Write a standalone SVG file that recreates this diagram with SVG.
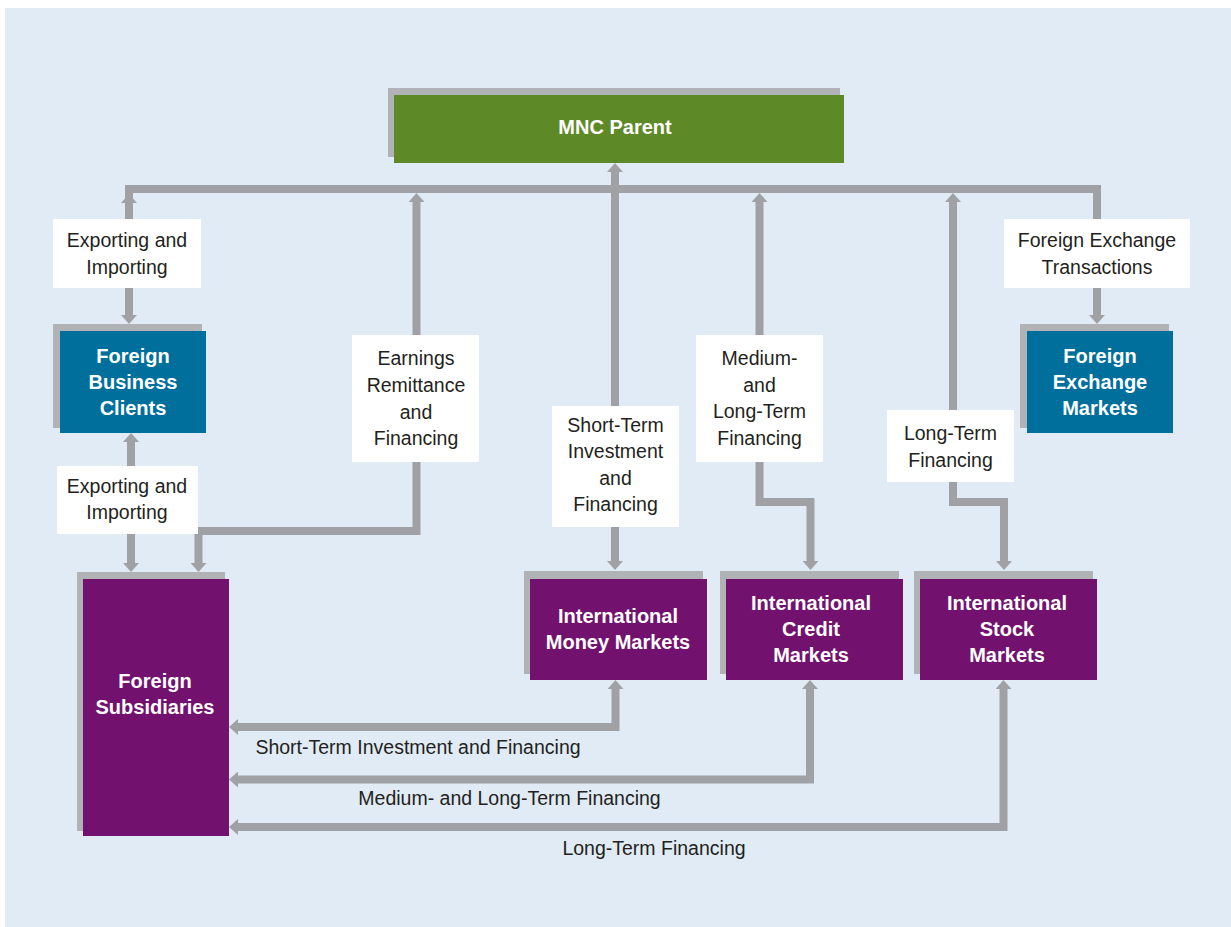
<svg xmlns="http://www.w3.org/2000/svg" width="1231" height="927" viewBox="0 0 1231 927">
<style>
.bg{fill:#e1ebf5}
.sh{fill:#b1b2b6}
.green{fill:#5e8927}
.blue{fill:#006f9c}
.purple{fill:#72126e}
.lbl{fill:#ffffff}
.bt{font-family:"Liberation Sans",Arial,sans-serif;font-weight:bold;font-size:20px;fill:#ffffff;text-anchor:middle}
.lt{font-family:"Liberation Sans",Arial,sans-serif;font-size:19.5px;fill:#231f20;text-anchor:middle}
.ln{fill:none;stroke:#a0a1a5;stroke-width:8;stroke-linejoin:miter}
.arr{marker-end:url(#ah)}
.arr2{marker-start:url(#ah);marker-end:url(#ah)}
</style>
<defs>
<marker id="ah" markerUnits="userSpaceOnUse" markerWidth="9" markerHeight="16" viewBox="0 0 9 16" refX="0" refY="8" orient="auto-start-reverse">
<path d="M0,0 L9,8 L0,16 z" fill="#a0a1a5"/>
</marker>
</defs>
<rect class="bg" x="5" y="8" width="1226" height="919"/>

<g id="connectors">
<path class="ln" d="M129,219 V189 H1097 V219"/>
<path class="ln arr" d="M129,210 V203"/>
<path class="ln arr" d="M129,288 V315"/>
<path class="ln arr" d="M1097,288 V315"/>
<path class="ln arr" d="M416.5,335 V202"/>
<path class="ln arr" d="M416.5,462 V531 H198.5 V563"/>
<path class="ln arr" d="M615,406 V172"/>
<path class="ln arr" d="M615,527 V561"/>
<path class="ln arr" d="M759.5,335 V202"/>
<path class="ln arr" d="M759.5,462 V502 H810.5 V561"/>
<path class="ln arr" d="M953,410 V202"/>
<path class="ln arr" d="M953,482 V502 H1004 V561"/>
<path class="ln arr" d="M131,466 V442"/>
<path class="ln arr" d="M131,534 V563"/>
<path class="ln arr2" d="M238,727 H615.5 V689"/>
<path class="ln arr2" d="M238,779.5 H810 V689"/>
<path class="ln arr2" d="M238,827 H1003.5 V689"/>
</g>

<g id="lbl-export1">
<rect class="lbl" x="53" y="219" width="148" height="69"/>
<text class="lt" x="127" y="247">Exporting and</text>
<text class="lt" x="127" y="274">Importing</text>
</g>
<g id="lbl-export2">
<rect class="lbl" x="57" y="466" width="141" height="68"/>
<text class="lt" x="127" y="493">Exporting and</text>
<text class="lt" x="127" y="519">Importing</text>
</g>
<g id="lbl-fx">
<rect class="lbl" x="1004" y="219" width="186" height="69"/>
<text class="lt" x="1097" y="247">Foreign Exchange</text>
<text class="lt" x="1097" y="274">Transactions</text>
</g>
<g id="lbl-earnings">
<rect class="lbl" x="352" y="335" width="127" height="127"/>
<text class="lt" x="416" y="365">Earnings</text>
<text class="lt" x="416" y="392">Remittance</text>
<text class="lt" x="416" y="418.5">and</text>
<text class="lt" x="416" y="445">Financing</text>
</g>
<g id="lbl-short">
<rect class="lbl" x="552" y="406" width="127" height="121"/>
<text class="lt" x="615.5" y="432">Short-Term</text>
<text class="lt" x="615.5" y="458">Investment</text>
<text class="lt" x="615.5" y="484.5">and</text>
<text class="lt" x="615.5" y="511">Financing</text>
</g>
<g id="lbl-medium">
<rect class="lbl" x="696" y="335" width="127" height="127"/>
<text class="lt" x="759.5" y="365">Medium-</text>
<text class="lt" x="759.5" y="392">and</text>
<text class="lt" x="759.5" y="418">Long-Term</text>
<text class="lt" x="759.5" y="445">Financing</text>
</g>
<g id="lbl-long">
<rect class="lbl" x="887" y="410" width="127" height="72"/>
<text class="lt" x="950.5" y="440">Long-Term</text>
<text class="lt" x="950.5" y="467">Financing</text>
</g>
<g id="lbl-bottom">
<text class="lt" x="418" y="754">Short-Term Investment and Financing</text>
<text class="lt" x="509.5" y="805">Medium- and Long-Term Financing</text>
<text class="lt" x="654" y="855">Long-Term Financing</text>
</g>

<g id="mnc-parent">
<rect class="sh" x="388" y="88" width="452" height="69"/>
<rect class="green" x="394" y="95" width="450" height="68"/>
<text class="bt" x="615" y="134">MNC Parent</text>
</g>
<g id="foreign-business-clients">
<rect class="sh" x="53" y="324" width="149" height="104"/>
<rect class="blue" x="60" y="331" width="146" height="102"/>
<text class="bt" x="133" y="362.5">Foreign</text>
<text class="bt" x="133" y="389">Business</text>
<text class="bt" x="133" y="415">Clients</text>
</g>
<g id="foreign-exchange-markets">
<rect class="sh" x="1020" y="324" width="149" height="104"/>
<rect class="blue" x="1027" y="331" width="146" height="102"/>
<text class="bt" x="1100" y="362.5">Foreign</text>
<text class="bt" x="1100" y="389">Exchange</text>
<text class="bt" x="1100" y="415">Markets</text>
</g>
<g id="foreign-subsidiaries">
<rect class="sh" x="77" y="572" width="148" height="259"/>
<rect class="purple" x="83" y="579" width="146" height="257"/>
<text class="bt" x="155" y="688">Foreign</text>
<text class="bt" x="155" y="714">Subsidiaries</text>
</g>
<g id="money-markets">
<rect class="sh" x="524" y="571" width="179" height="103"/>
<rect class="purple" x="530" y="579" width="177" height="101"/>
<text class="bt" x="618" y="622.5">International</text>
<text class="bt" x="618" y="649">Money Markets</text>
</g>
<g id="credit-markets">
<rect class="sh" x="720" y="571" width="179" height="103"/>
<rect class="purple" x="726" y="579" width="177" height="101"/>
<text class="bt" x="811" y="609.5">International</text>
<text class="bt" x="811" y="636">Credit</text>
<text class="bt" x="811" y="662">Markets</text>
</g>
<g id="stock-markets">
<rect class="sh" x="914" y="571" width="179" height="103"/>
<rect class="purple" x="920" y="579" width="177" height="101"/>
<text class="bt" x="1007" y="609.5">International</text>
<text class="bt" x="1007" y="636">Stock</text>
<text class="bt" x="1007" y="662">Markets</text>
</g>
</svg>
